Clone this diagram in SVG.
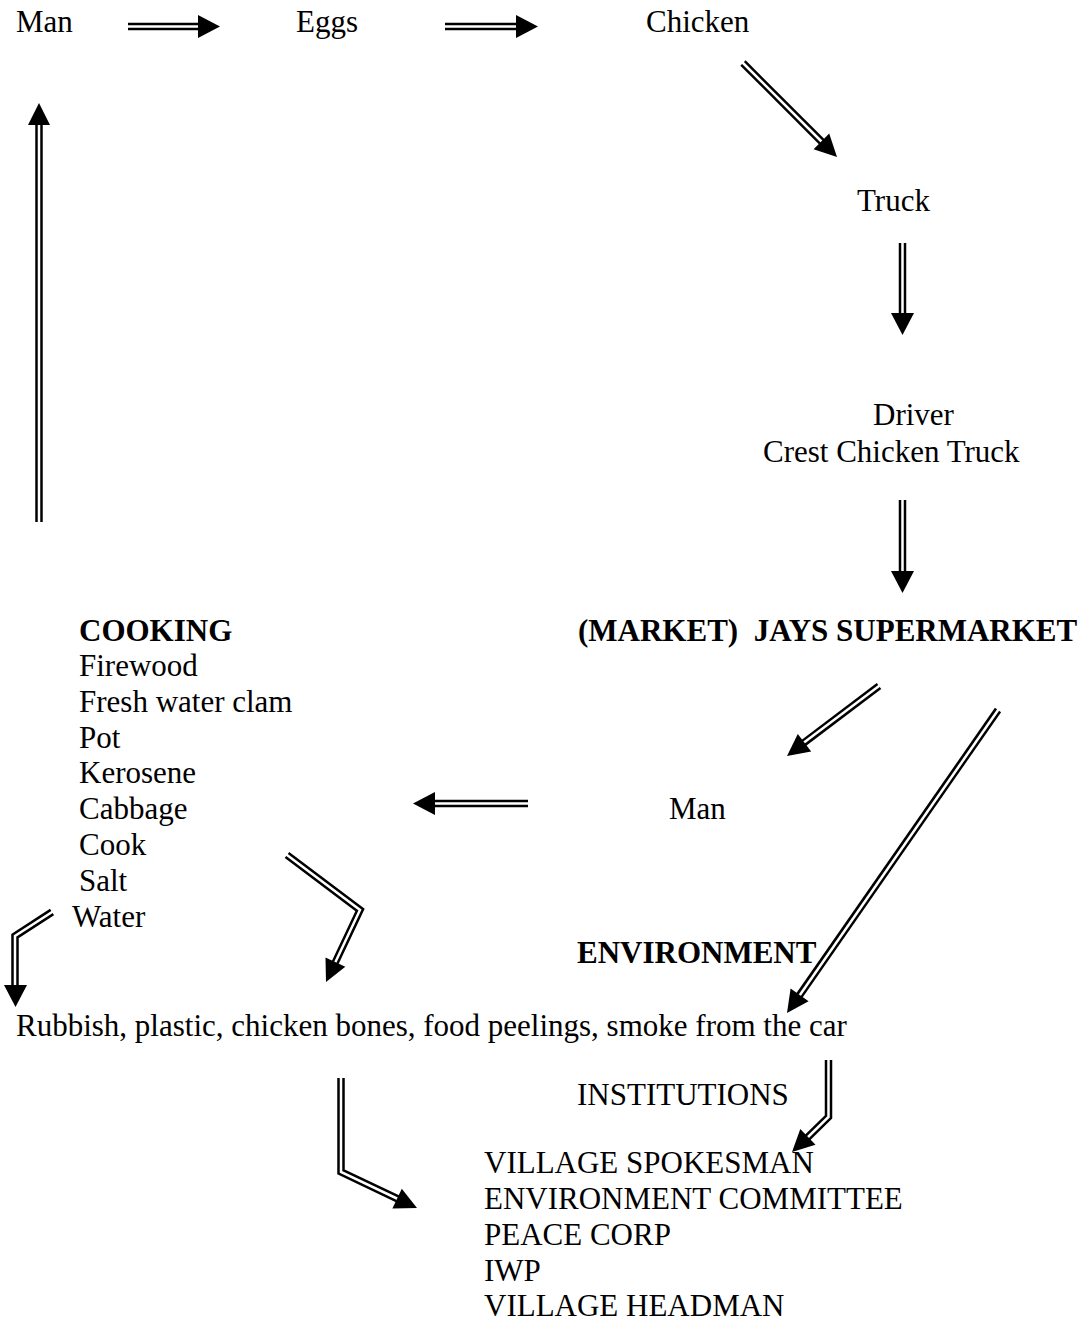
<svg xmlns="http://www.w3.org/2000/svg" width="1084" height="1323" viewBox="0 0 1084 1323">
<style>
text{font-family:"Liberation Serif","Times New Roman",serif;font-size:31px;fill:#000}
.b{font-weight:bold}
.o{fill:none;stroke:#000;stroke-width:7.5;stroke-linejoin:miter}
.i{fill:none;stroke:#fff;stroke-width:2.5;stroke-linejoin:miter}
.h{fill:#000}
</style>
<rect width="1084" height="1323" fill="#fff"/>
<g id="connectors">
<g id="c1"><path class="o" d="M128,26.5 H200"/><path class="i" d="M126,26.5 H201"/><polygon class="h" points="198,15 220,26.5 198,38"/></g>
<g id="c2"><path class="o" d="M445,26.5 H518"/><path class="i" d="M443,26.5 H519"/><polygon class="h" points="516,15 538,26.5 516,38"/></g>
<g id="c3"><path class="o" d="M743,63 L823,143"/><path class="i" d="M741,61 L824,144"/><polygon class="h" points="813.6,149.2 829.2,133.6 837,157"/></g>
<g id="c4"><path class="o" d="M902.5,243 V315"/><path class="i" d="M902.5,241 V316"/><polygon class="h" points="891,313 914,313 902.5,335"/></g>
<g id="c5"><path class="o" d="M902.5,500 V573"/><path class="i" d="M902.5,498 V574"/><polygon class="h" points="891,571 914,571 902.5,593"/></g>
<g id="c6"><path class="o" d="M39,522 V123"/><path class="i" d="M39,524 V122"/><polygon class="h" points="28,125 50,125 39,103"/></g>
<g id="c7"><path class="o" d="M879,686 L803,743.5"/><path class="i" d="M881,684.5 L802,744"/><polygon class="h" points="797.8,733.9 811.2,751.5 787,756"/></g>
<g id="c8"><path class="o" d="M998,710 L799,996"/><path class="i" d="M999.5,708 L798.5,997"/><polygon class="h" points="790.6,988.6 808.6,1001.2 787,1013"/></g>
<g id="c9"><path class="o" d="M528,803.5 H433"/><path class="i" d="M530,803.5 H432"/><polygon class="h" points="435,792 435,815 413,803.5"/></g>
<g id="c10"><path class="o" d="M52,912 L15,936 V987"/><path class="i" d="M54,910.7 L15,936 V988"/><polygon class="h" points="4,985 27,985 15.5,1007"/></g>
<g id="c11"><path class="o" d="M287,855 L360,910 L335,963"/><path class="i" d="M285,853.5 L360,910 L334.5,964"/><polygon class="h" points="325.5,957.4 345.3,966.8 326,982"/></g>
<g id="c12"><path class="o" d="M341,1078 V1172 L398,1199"/><path class="i" d="M341,1076 V1172 L399,1199.5"/><polygon class="h" points="392.4,1208.5 401.8,1188.7 417,1208"/></g>
<g id="c13"><path class="o" d="M828.5,1060 V1117 L807,1138"/><path class="i" d="M828.5,1058 V1117 L806,1139"/><polygon class="h" points="800.3,1128.9 815.5,1144.7 792,1152"/></g>
</g>
<g id="n-man1"><text x="16" y="32">Man</text></g>
<g id="n-eggs"><text x="296" y="32">Eggs</text></g>
<g id="n-chicken"><text x="646" y="32">Chicken</text></g>
<g id="n-truck"><text x="857" y="211">Truck</text></g>
<g id="n-driver"><text x="873" y="425">Driver</text><text x="763" y="462">Crest Chicken Truck</text></g>
<g id="n-market"><text class="b" x="578" y="641" xml:space="preserve">(MARKET)  JAYS SUPERMARKET</text></g>
<g id="n-cooking"><text class="b" x="79" y="641">COOKING</text>
<text x="79" y="676">Firewood</text>
<text x="79" y="712">Fresh water clam</text>
<text x="79" y="748">Pot</text>
<text x="79" y="783">Kerosene</text>
<text x="79" y="819">Cabbage</text>
<text x="79" y="855">Cook</text>
<text x="79" y="891">Salt</text>
<text x="72" y="927">Water</text></g>
<g id="n-man2"><text x="669" y="819">Man</text></g>
<g id="n-environment"><text class="b" x="577" y="963">ENVIRONMENT</text></g>
<g id="n-rubbish"><text x="16" y="1036">Rubbish, plastic, chicken bones, food peelings, smoke from the car</text></g>
<g id="n-institutions"><text x="577" y="1105">INSTITUTIONS</text>
<text x="484" y="1173">VILLAGE SPOKESMAN</text>
<text x="484" y="1209">ENVIRONMENT COMMITTEE</text>
<text x="484" y="1245">PEACE CORP</text>
<text x="484" y="1281">IWP</text>
<text x="484" y="1316">VILLAGE HEADMAN</text></g>
</svg>
